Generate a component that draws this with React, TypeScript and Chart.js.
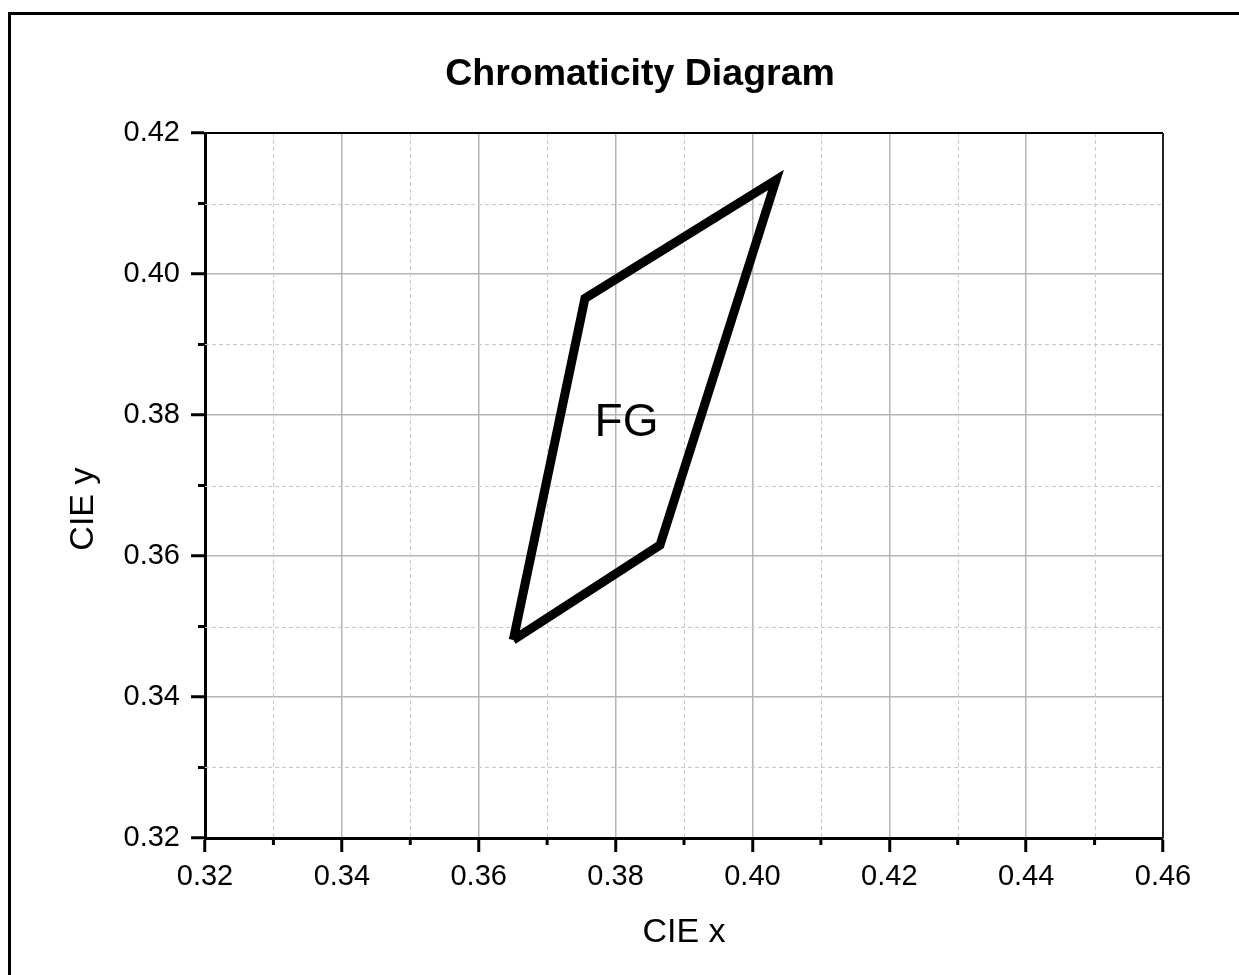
import React, { useEffect, useRef } from "react";
import { Chart, registerables } from "chart.js";

Chart.register(...registerables);

// ---- data ----
const cieX = [0.36505, 0.37553, 0.40344, 0.38649, 0.36505];
const cieY = [0.34809, 0.39655, 0.41333, 0.36156, 0.34809];

const xTickValues = [0.32, 0.34, 0.36, 0.38, 0.4, 0.42, 0.44, 0.46];
const yTickValues = [0.32, 0.34, 0.36, 0.38, 0.4, 0.42];
const xMinorValues = [0.33, 0.35, 0.37, 0.39, 0.41, 0.43, 0.45];
const yMinorValues = [0.33, 0.35, 0.37, 0.39, 0.41];

const labelText = ["FG"];
const labelX = [0.3816];
const labelY = [0.377];

const chartTitle = "Chromaticity Diagram";
const xTitle = "CIE x";
const yTitle = "CIE y";

const FONT = "Arial, 'Liberation Sans', sans-serif";

const overlayPlugin = {
  id: "overlay",
  beforeDatasetsDraw(chart: any) {
    const { ctx, chartArea } = chart;
    const xs = chart.scales.x;
    const ys = chart.scales.y;
    ctx.save();
    ctx.strokeStyle = "#c8c8c8";
    ctx.lineWidth = 1;
    ctx.setLineDash([4, 3]);
    xMinorValues.forEach((v) => {
      const px = Math.round(xs.getPixelForValue(v)) + 0.5;
      ctx.beginPath();
      ctx.moveTo(px, chartArea.top);
      ctx.lineTo(px, chartArea.bottom);
      ctx.stroke();
    });
    yMinorValues.forEach((v) => {
      const py = Math.round(ys.getPixelForValue(v)) + 0.5;
      ctx.beginPath();
      ctx.moveTo(chartArea.left, py);
      ctx.lineTo(chartArea.right, py);
      ctx.stroke();
    });
    ctx.restore();
  },
  afterDatasetsDraw(chart: any) {
    const { ctx } = chart;
    const xs = chart.scales.x;
    const ys = chart.scales.y;
    ctx.save();
    ctx.fillStyle = "#000";
    ctx.font = `46px ${FONT}`;
    ctx.textAlign = "center";
    ctx.textBaseline = "alphabetic";
    labelText.forEach((t, i) => {
      ctx.fillText(t, xs.getPixelForValue(labelX[i]), ys.getPixelForValue(labelY[i]));
    });
    ctx.restore();
  },
  afterDraw(chart: any) {
    const { ctx, chartArea } = chart;
    const xs = chart.scales.x;
    const ys = chart.scales.y;
    ctx.save();
    // top and right frame
    ctx.strokeStyle = "#000";
    ctx.lineWidth = 2;
    ctx.beginPath();
    ctx.moveTo(chartArea.left, chartArea.top);
    ctx.lineTo(chartArea.right, chartArea.top);
    ctx.stroke();
    ctx.strokeStyle = "#222";
    ctx.beginPath();
    ctx.moveTo(chartArea.right, chartArea.top);
    ctx.lineTo(chartArea.right, chartArea.bottom);
    ctx.stroke();
    // minor ticks
    ctx.strokeStyle = "#000";
    ctx.lineWidth = 3;
    xMinorValues.forEach((v) => {
      const px = xs.getPixelForValue(v);
      ctx.beginPath();
      ctx.moveTo(px, chartArea.bottom);
      ctx.lineTo(px, chartArea.bottom + 7);
      ctx.stroke();
    });
    yMinorValues.forEach((v) => {
      const py = ys.getPixelForValue(v);
      ctx.beginPath();
      ctx.moveTo(chartArea.left, py);
      ctx.lineTo(chartArea.left - 7, py);
      ctx.stroke();
    });
    ctx.restore();
  },
};

export default function App() {
  const canvasRef = useRef<HTMLCanvasElement | null>(null);

  useEffect(() => {
    if (!canvasRef.current) return;
    const chart = new Chart(canvasRef.current, {
      type: "scatter",
      data: {
        datasets: [
          {
            data: cieX.map((x, i) => ({ x, y: cieY[i] })),
            showLine: true,
            borderColor: "#000",
            borderWidth: 9,
            pointRadius: 0,
            pointHoverRadius: 0,
            fill: false,
            tension: 0,
            borderJoinStyle: "miter",
          } as any,
        ],
      },
      options: {
        responsive: false,
        animation: false,
        devicePixelRatio: 1,
        layout: { padding: { left: 117, right: 76, top: 0, bottom: 22 } },
        plugins: {
          legend: { display: false },
          tooltip: { enabled: false },
          title: {
            display: true,
            text: chartTitle,
            color: "#000",
            font: { family: FONT, size: 37.5, weight: "bold" },
            padding: { top: 52, bottom: 36 },
          },
        },
        scales: {
          x: {
            type: "linear",
            position: "bottom",
            min: 0.32,
            max: 0.46,
            afterBuildTicks: (s: any) => {
              s.ticks = xTickValues.map((v) => ({ value: v }));
            },
            afterFit: (s: any) => {
              s.height = 115;
            },
            ticks: {
              color: "#000",
              font: { family: FONT, size: 29 },
              padding: 8,
              maxRotation: 0,
              callback: (v: any) => Number(v).toFixed(2),
            },
            grid: {
              color: "#b4b4b4",
              lineWidth: 1.5,
              tickColor: "#000",
              tickWidth: 3,
              tickLength: 14,
            },
            border: { color: "#000", width: 3 },
            title: {
              display: true,
              text: xTitle,
              color: "#000",
              font: { family: FONT, size: 34 },
              padding: { top: 0, bottom: 0 },
            },
          },
          y: {
            type: "linear",
            position: "left",
            min: 0.32,
            max: 0.42,
            afterBuildTicks: (s: any) => {
              s.ticks = yTickValues.map((v) => ({ value: v }));
            },
            afterFit: (s: any) => {
              s.width = 88;
            },
            ticks: {
              color: "#000",
              font: { family: FONT, size: 29 },
              padding: 11,
              callback: (v: any) => Number(v).toFixed(2),
            },
            grid: {
              color: "#b4b4b4",
              lineWidth: 1.5,
              tickColor: "#000",
              tickWidth: 3,
              tickLength: 14,
            },
            border: { color: "#000", width: 3 },
            title: {
              display: true,
              text: yTitle + "     ",
              color: "#000",
              font: { family: FONT, size: 34 },
              padding: { top: -53.5, bottom: 0 },
            },
          },
        },
      },
      plugins: [overlayPlugin],
    } as any);
    return () => chart.destroy();
  }, []);

  return (
    <div
      style={{
        position: "fixed",
        left: 0,
        top: 0,
        width: 1239,
        height: 975,
        overflow: "hidden",
        background: "#fff",
      }}
    >
      <div
        style={{
          position: "absolute",
          left: 8,
          top: 12,
          width: 1300,
          height: 1100,
          border: "3px solid #000",
          boxSizing: "border-box",
        }}
      />
      <canvas
        ref={canvasRef}
        width={1239}
        height={975}
        style={{ position: "absolute", left: 0, top: 0 }}
      />
    </div>
  );
}
